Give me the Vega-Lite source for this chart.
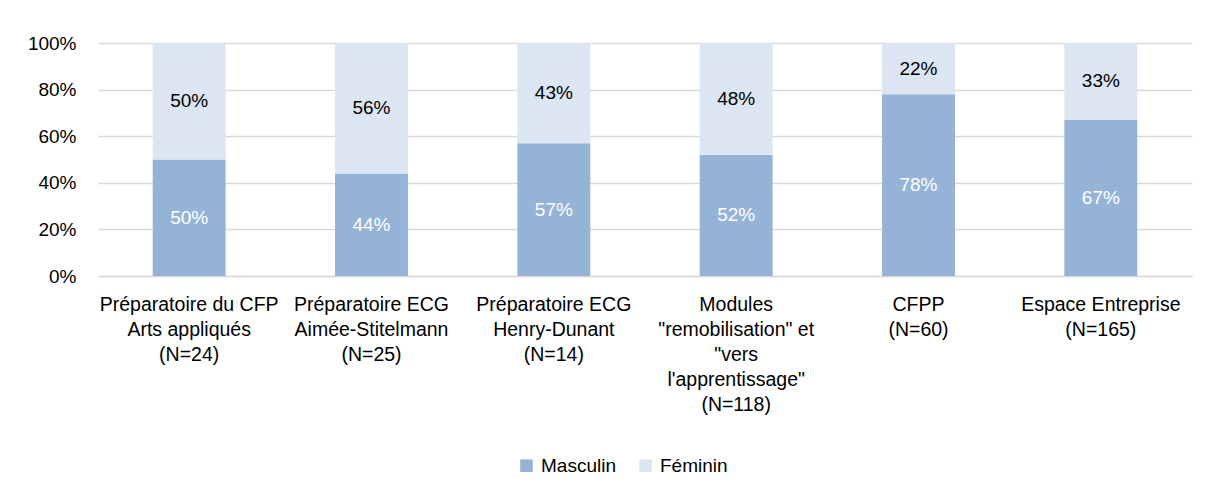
{
  "$schema": "https://vega.github.io/schema/vega-lite/v6.json",
  "width": 1094,
  "height": 233,
  "autosize": {"type": "none"},
  "padding": {"left": 98, "top": 43, "right": 13, "bottom": 219},
  "background": "white",
  "config": {"view": {"stroke": null}},
  "data": {
    "values": [
      {"etab": "Préparatoire du CFP|Arts appliqués|(N=24)", "sexe": "Masculin", "ordre": 1, "pct": 0.50},
      {"etab": "Préparatoire du CFP|Arts appliqués|(N=24)", "sexe": "Féminin", "ordre": 2, "pct": 0.50},
      {"etab": "Préparatoire ECG|Aimée-Stitelmann|(N=25)", "sexe": "Masculin", "ordre": 1, "pct": 0.44},
      {"etab": "Préparatoire ECG|Aimée-Stitelmann|(N=25)", "sexe": "Féminin", "ordre": 2, "pct": 0.56},
      {"etab": "Préparatoire ECG|Henry-Dunant|(N=14)", "sexe": "Masculin", "ordre": 1, "pct": 0.57},
      {"etab": "Préparatoire ECG|Henry-Dunant|(N=14)", "sexe": "Féminin", "ordre": 2, "pct": 0.43},
      {"etab": "Modules|\"remobilisation\" et|\"vers|l'apprentissage\"|(N=118)", "sexe": "Masculin", "ordre": 1, "pct": 0.52},
      {"etab": "Modules|\"remobilisation\" et|\"vers|l'apprentissage\"|(N=118)", "sexe": "Féminin", "ordre": 2, "pct": 0.48},
      {"etab": "CFPP|(N=60)", "sexe": "Masculin", "ordre": 1, "pct": 0.78},
      {"etab": "CFPP|(N=60)", "sexe": "Féminin", "ordre": 2, "pct": 0.22},
      {"etab": "Espace Entreprise|(N=165)", "sexe": "Masculin", "ordre": 1, "pct": 0.67},
      {"etab": "Espace Entreprise|(N=165)", "sexe": "Féminin", "ordre": 2, "pct": 0.33}
    ]
  },
  "encoding": {
    "x": {
      "field": "etab",
      "type": "nominal",
      "sort": null,
      "title": null,
      "scale": {"paddingInner": 0.6, "paddingOuter": 0.3},
      "axis": {
        "labelAngle": 0,
        "labelExpr": "split(datum.label, '|')",
        "labelBaseline": "top",
        "labelPadding": 19,
        "labelLineHeight": 25,
        "labelLimit": 0,
        "labelFont": "Liberation Sans",
        "labelFontSize": 19.5,
        "labelColor": "#000000",
        "ticks": false,
        "domain": true,
        "domainColor": "#D9D9D9",
        "domainWidth": 1.5
      }
    },
    "y": {
      "field": "pct",
      "type": "quantitative",
      "stack": "zero",
      "title": null,
      "scale": {"domain": [0, 1]},
      "axis": {
        "format": ".0%",
        "values": [0, 0.2, 0.4, 0.6, 0.8, 1],
        "grid": true,
        "gridColor": "#D9D9D9",
        "gridWidth": 1.5,
        "domain": false,
        "ticks": false,
        "labelPadding": 22,
        "labelFont": "Liberation Sans",
        "labelFontSize": 19,
        "labelColor": "#000000"
      }
    },
    "order": {"field": "ordre", "type": "quantitative"}
  },
  "layer": [
    {
      "mark": {"type": "bar"},
      "encoding": {
        "color": {
          "field": "sexe",
          "type": "nominal",
          "sort": ["Masculin", "Féminin"],
          "scale": {"domain": ["Masculin", "Féminin"], "range": ["#95B3D7", "#DCE6F2"]},
          "legend": {
            "title": null,
            "orient": "none",
            "legendX": 419,
            "legendY": 413,
            "direction": "horizontal",
            "symbolType": "square",
            "symbolSize": 160,
            "symbolStrokeWidth": 0,
            "labelFont": "Liberation Sans",
            "labelFontSize": 19,
            "labelColor": "#000000",
            "labelOffset": 5,
            "columnPadding": 20
          }
        }
      }
    },
    {
      "mark": {"type": "text", "font": "Liberation Sans", "fontSize": 19},
      "encoding": {
        "y": {"field": "pct", "type": "quantitative", "stack": "zero", "bandPosition": 0.5},
        "text": {"field": "pct", "type": "quantitative", "format": ".0%"},
        "color": {
          "condition": {"test": "datum.sexe === 'Masculin'", "value": "#FFFFFF"},
          "value": "#000000"
        }
      }
    }
  ]
}
